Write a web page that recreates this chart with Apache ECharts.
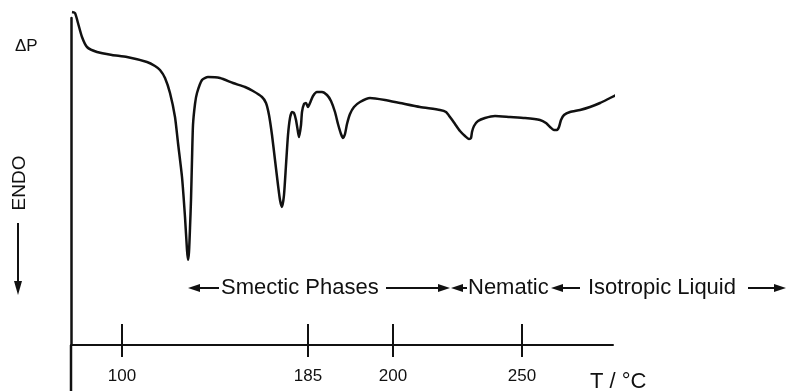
<!DOCTYPE html>
<html>
<head>
<meta charset="utf-8">
<script src="https://cdn.jsdelivr.net/npm/echarts@6/dist/echarts.min.js"></script>
<style>
  html, body { margin: 0; padding: 0; background: #fff; }
  #chart { width: 791px; height: 391px; }
</style>
</head>
<body>
<div id="chart"></div>
<script>
// DSC trace, x = position along the temperature axis, y = signal height above the baseline axis
var curveX = [1, 4, 7, 11, 16, 26, 41, 56, 76, 84, 89, 94, 99, 104, 107, 111, 114, 116, 117, 118, 119, 120, 121, 122, 124, 126, 131, 137, 149, 162, 174, 182, 191, 195, 198, 201, 204, 207, 209, 211, 213, 215, 217, 219, 221, 223, 225, 227, 228, 230, 231, 233, 235, 237, 239, 242, 246, 251, 256, 260, 264, 267, 270, 272, 274, 276, 279, 283, 289, 299, 314, 329, 349, 369, 375, 379, 384, 389, 394, 398, 400, 401, 403, 407, 414, 424, 439, 454, 469, 475, 479, 483, 486, 488, 490, 493, 499, 509, 519, 529, 539, 549, 557, 563];
var curveY = [333, 332, 322, 308, 298, 293, 290, 288, 283, 279, 275, 267, 252, 228, 202, 168, 128, 95, 85, 93, 117, 145, 185, 220, 241, 252, 265, 268, 267, 262, 258, 254, 248, 242, 230, 210, 185, 160, 145, 138, 150, 180, 210, 227, 233, 232, 225, 213, 208, 220, 233, 241, 242, 238, 242, 249, 253, 253, 250, 244, 233, 221, 211, 207, 211, 221, 231, 238, 243, 247, 245, 242, 238, 235, 233, 228, 221, 214, 209, 206, 207, 213, 219, 224, 227, 229, 228, 227, 225, 222, 218, 215, 215, 218, 225, 230, 233, 235, 238, 242, 247, 252, 256, 259];

var tickPos = [51, 237, 322, 451];
var tickLabels = ['100', '185', '200', '250'];

var phaseLabels = ['Smectic Phases', 'Nematic', 'Isotropic Liquid'];

var seriesData = curveX.map(function (x, i) { return [x, curveY[i]]; });

var chart = echarts.init(document.getElementById('chart'));

var ink = '#111';
var phaseY = 288;
// [tail, tip] of each annotation arrow, in pixels
var arrows = [[219, 188], [386, 450], [467, 451], [580, 551], [748, 786]];
var phaseX = [221, 468, 588];

var graphics = [];
arrows.forEach(function (a) {
  var dir = a[1] > a[0] ? 1 : -1;
  var base = a[1] - dir * 12;
  graphics.push({
    type: 'line',
    shape: { x1: a[0], y1: phaseY, x2: base, y2: phaseY },
    style: { stroke: ink, lineWidth: 2 }
  });
  graphics.push({
    type: 'polygon',
    shape: { points: [[a[1], phaseY], [base, phaseY - 4], [base, phaseY + 4]] },
    style: { fill: ink }
  });
});
phaseLabels.forEach(function (t, i) {
  graphics.push({
    type: 'text',
    x: phaseX[i],
    y: phaseY,
    style: {
      text: t, fill: ink, fontSize: 22,
      fontFamily: 'Liberation Sans', align: 'left', verticalAlign: 'middle'
    }
  });
});
// y-axis caption
graphics.push({
  type: 'text', x: 15, y: 46,
  style: { text: 'ΔP', fill: ink, fontSize: 17, fontFamily: 'Liberation Sans', align: 'left', verticalAlign: 'middle' }
});
graphics.push({
  type: 'text', x: 20, y: 183, rotation: Math.PI / 2,
  style: { text: 'ENDO', fill: ink, fontSize: 19, fontFamily: 'Liberation Sans', align: 'center', verticalAlign: 'middle' }
});
graphics.push({
  type: 'line',
  shape: { x1: 18, y1: 223, x2: 18, y2: 283 },
  style: { stroke: ink, lineWidth: 2 }
});
graphics.push({
  type: 'polygon',
  shape: { points: [[18, 295], [14, 281], [22, 281]] },
  style: { fill: ink }
});

var option = {
  animation: false,
  backgroundColor: '#fff',
  grid: { left: 71, right: 178, top: 18, bottom: 46, containLabel: false, outerBoundsMode: 'none' },
  xAxis: {
    type: 'value',
    min: 0,
    max: 542,
    name: 'T / °C',
    nameLocation: 'end',
    nameGap: -23,
    nameTextStyle: {
      color: ink, fontSize: 22, fontFamily: 'Liberation Sans',
      align: 'left', verticalAlign: 'top', padding: [26, 0, 0, 0]
    },
    axisLine: { lineStyle: { color: ink, width: 2 } },
    axisTick: { show: false },
    splitLine: { show: false },
    axisLabel: {
      customValues: tickPos,
      color: ink,
      fontSize: 17,
      fontFamily: 'Liberation Sans',
      margin: 23,
      formatter: function (v) {
        var i = tickPos.indexOf(v);
        return i >= 0 ? tickLabels[i] : '';
      }
    }
  },
  yAxis: {
    type: 'value',
    min: 0,
    max: 327,
    axisLine: { show: true, lineStyle: { color: ink, width: 2.5 } },
    axisTick: { show: false },
    axisLabel: { show: false },
    splitLine: { show: false }
  },
  series: [
    {
      type: 'line',
      data: seriesData,
      showSymbol: false,
      smooth: 0.2,
      clip: false,
      lineStyle: { color: ink, width: 2.5 }
    },
    {
      type: 'custom',
      data: tickPos.map(function (p) { return [p, 0]; }),
      clip: false,
      renderItem: function (params, api) {
        var pt = api.coord([api.value(0), 0]);
        return {
          type: 'line',
          shape: { x1: pt[0], y1: pt[1] - 21, x2: pt[0], y2: pt[1] + 12 },
          style: { stroke: ink, lineWidth: 2 }
        };
      }
    }
  ],
  graphic: graphics
};

chart.setOption(option);

// the vertical axis continues below the temperature axis down to the page edge
var origin = chart.convertToPixel({ gridIndex: 0 }, [0, 0]);
chart.setOption({
  graphic: graphics.concat([{
    type: 'line',
    shape: { x1: origin[0], y1: origin[1], x2: origin[0], y2: chart.getHeight() },
    style: { stroke: ink, lineWidth: 2.5 }
  }])
});
</script>
</body>
</html>
